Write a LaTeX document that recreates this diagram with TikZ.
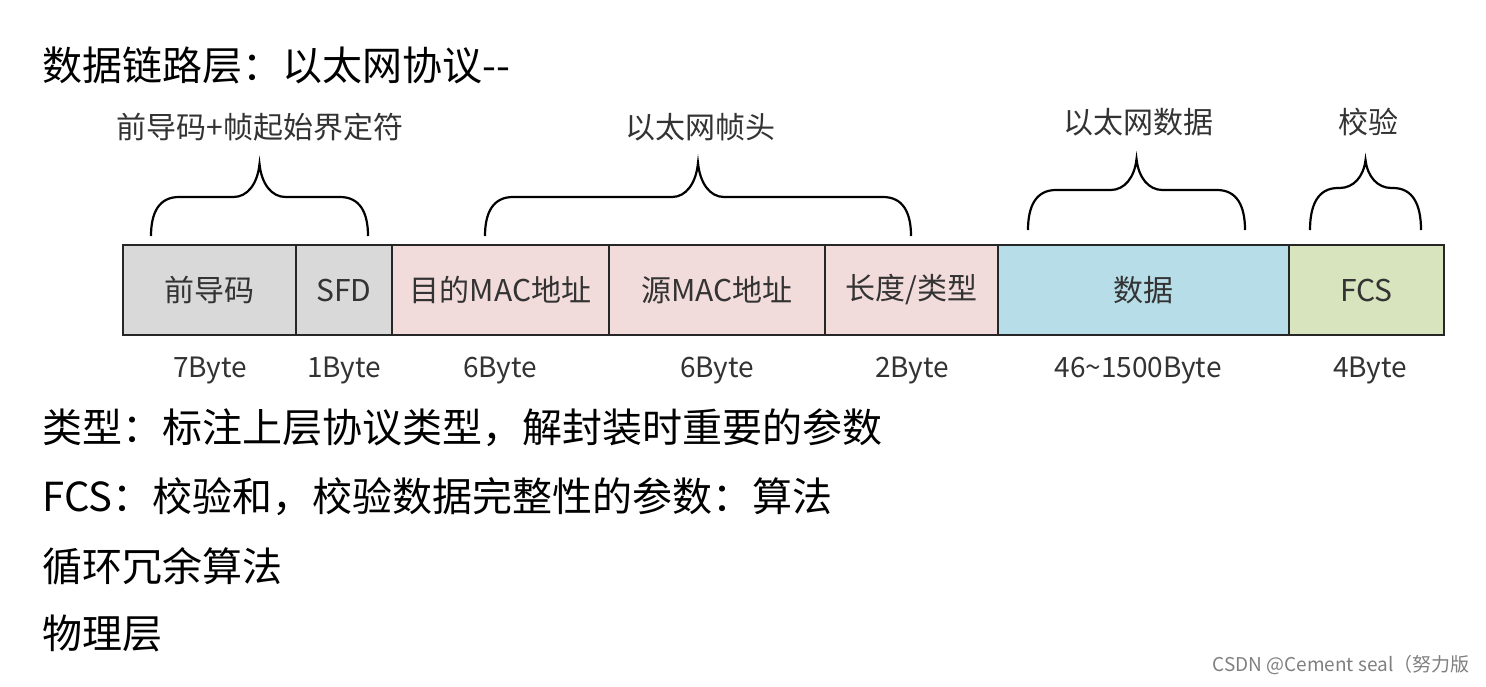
\documentclass[tikz,border=0pt]{standalone}
\usepackage{fontspec}
\setmainfont{Noto Sans CJK SC}
\definecolor{grayfld}{HTML}{D9D9D9}
\definecolor{pinkfld}{HTML}{F2DCDB}
\definecolor{bluefld}{HTML}{B7DEE8}
\definecolor{greenfld}{HTML}{D7E4BD}
\newcommand\curlybrace[5]{% xl, xr, ybottom, yflat, ytip
  \draw[bracestyle] (#1,#3) .. controls (#1,{#3-0.6*(#3-#4)}) and ({#1+8},#4) .. ({#1+28},#4)
    -- ({(#1+#2)/2-26},#4) .. controls ({(#1+#2)/2-12},#4) and ({(#1+#2)/2-2},{#4-0.4*(#4-#5)}) .. ({(#1+#2)/2},#5)
    .. controls ({(#1+#2)/2+2},{#4-0.4*(#4-#5)}) and ({(#1+#2)/2+12},#4) .. ({(#1+#2)/2+26},#4)
    -- ({#2-28},#4) .. controls ({#2-8},#4) and (#2,{#3-0.6*(#3-#4)}) .. (#2,#3);}
\begin{document}
\begin{tikzpicture}[x=0.5pt,y=-0.5pt,
  fld/.style={draw=black!85, line width=1.3pt, minimum height=45pt, inner sep=0pt,
    font=\fontsize{15}{18}\selectfont, text=black!80},
  bytelbl/.style={font=\fontsize{14}{17}\selectfont, text=black!80, inner sep=0pt},
  bracelbl/.style={font=\fontsize{15}{18}\selectfont, text=black!80, inner sep=0pt},
  bigtxt/.style={font=\fontsize{20}{24}\selectfont, anchor=west, inner sep=0pt},
  bracestyle/.style={line width=1.1pt, black}]
\fill[white] (0,0) rectangle (1486,686);
\useasboundingbox (0,0) rectangle (1486,686);

\node[bigtxt] (title) at (42,65) {数据链路层：以太网协议{-}{-}};

% fields
\node[fld, fill=grayfld, minimum width=86.5pt] (pre) at (209.5,290) {前导码};
\node[fld, fill=grayfld, minimum width=48pt] (sfd) at (344,290) {SFD};
\node[fld, fill=pinkfld, minimum width=108.5pt] (dst) at (500.5,290) {目的MAC地址};
\node[fld, fill=pinkfld, minimum width=108pt] (src) at (717,290) {源MAC地址};
\node[fld, fill=pinkfld, minimum width=86.5pt] (len) at (911.5,290) {长度/类型};
\node[fld, fill=bluefld, minimum width=145.5pt] (dat) at (1143.5,290) {数据};
\node[fld, fill=greenfld, minimum width=77.5pt] (fcs) at (1366.5,290) {FCS};

% byte counts
\node[bytelbl] (b1) at (210,371) {7Byte};
\node[bytelbl] (b2) at (344,371) {1Byte};
\node[bytelbl] (b3) at (500,371) {6Byte};
\node[bytelbl] (b4) at (717,371) {6Byte};
\node[bytelbl] (b5) at (912,371) {2Byte};
\node[bytelbl] (b6) at (1138,371) {46\char"7E 1500Byte};
\node[bytelbl] (b7) at (1370,371) {4Byte};

% braces
\curlybrace{151}{368}{236}{197}{164}
\curlybrace{485}{911}{236}{197}{163}
\curlybrace{1028}{1245}{230}{190}{159}
\curlybrace{1310}{1421}{230}{188}{160}

% brace labels
\node[bracelbl] (l1) at (260,127) {前导码+帧起始界定符};
\node[bracelbl] (l2) at (700,127) {以太网帧头};
\node[bracelbl] (l3) at (1138,122) {以太网数据};
\node[bracelbl] (l4) at (1368,122) {校验};

% bottom text
\node[bigtxt] (t1) at (42,428) {类型：标注上层协议类型，解封装时重要的参数};
\node[bigtxt] (t2) at (42,497) {FCS：校验和，校验数据完整性的参数：算法};
\node[bigtxt] (t3) at (42,566) {循环冗余算法};
\node[bigtxt] (t4) at (42,633) {物理层};

\node[anchor=east, inner sep=0pt, text=black!50, font=\fontsize{9.5}{11}\selectfont] (wm) at (1470,665) {CSDN @Cement seal（努力版};
\end{tikzpicture}
\end{document}
